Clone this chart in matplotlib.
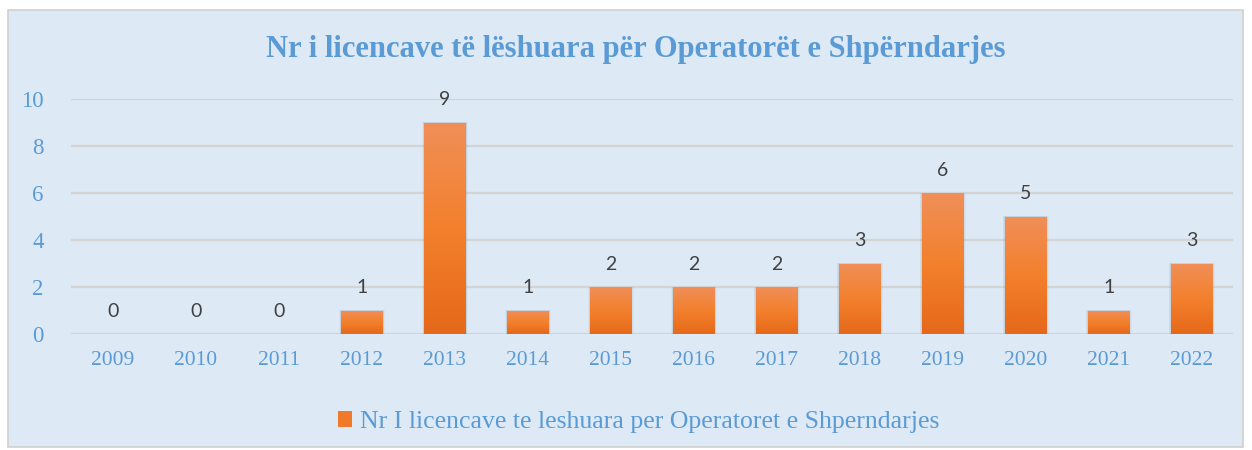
import numpy as np
import matplotlib.pyplot as plt
from matplotlib.patches import Rectangle
from matplotlib.colors import LinearSegmentedColormap

years = ['2009', '2010', '2011', '2012', '2013', '2014', '2015', '2016',
         '2017', '2018', '2019', '2020', '2021', '2022']
licences = [0, 0, 0, 1, 9, 1, 2, 2, 2, 3, 6, 5, 1, 3]

title = 'Nr i licencave të lëshuara për Operatorët e Shpërndarjes'
series_name = 'Nr I licencave te leshuara per Operatoret e Shperndarjes'

blue = '#5B9BD5'
bg = '#DDE9F5'

fig = plt.figure(figsize=(12.52, 4.5), dpi=100)
fig.patch.set_facecolor('white')
# chart frame
fig.patches.append(Rectangle((8/1252, 3/450), 1235/1252, 437/450, transform=fig.transFigure,
                             facecolor=bg, edgecolor='#D0D0D0', lw=1.2, zorder=-5))

ax = fig.add_axes([0.0571, 0.2578, 0.928, 0.522])
ax.set_facecolor('none')
x = np.arange(len(years))
ax.set_xlim(-0.5, len(years) - 0.5)
ax.set_ylim(0, 10)

grad = LinearSegmentedColormap.from_list('g', ['#E5691A', '#F3802D', '#F08F58'])
bars = ax.bar(x, licences, width=0.5, color='none', edgecolor='none', zorder=3)
for b, v in zip(bars, licences):
    if v == 0:
        continue
    x0, w, h = b.get_x(), b.get_width(), b.get_height()
    # soft shadow
    for k, a in [(0.06, 0.04), (0.04, 0.06), (0.02, 0.08)]:
        ax.add_patch(Rectangle((x0 - k * 0.5, -0.02), w + k, h + 0.04, facecolor='#506070',
                               alpha=a, edgecolor='none', zorder=2))
    im = ax.imshow(np.linspace(0, 1, 100).reshape(-1, 1), cmap=grad, aspect='auto',
                   extent=(x0, x0 + w, 0, h), origin='lower', zorder=3)
    clip = Rectangle((x0, 0), w, h, transform=ax.transData, facecolor='none', edgecolor='none')
    ax.add_patch(clip)
    im.set_clip_path(clip)

for xi, v in zip(x, licences):
    ax.text(xi, v + 0.6, str(v), ha='center', va='bottom', fontsize=14,
            family='Lato', color='#404040', zorder=4)

ax.set_yticks([0, 2, 4, 6, 8, 10])
ax.yaxis.grid(True, color='#D4D4D4', lw=1.6, zorder=1)
ax.set_axisbelow(True)
ax.set_xticks(x)
ax.set_xticklabels(years)
for s in ax.spines.values():
    s.set_visible(False)
ax.tick_params(length=0, colors=blue, labelsize=15.5, pad=12)
ax.tick_params(axis='y', labelsize=16.5, pad=20)
for lbl in ax.get_xticklabels() + ax.get_yticklabels():
    lbl.set_family('Liberation Serif')
    lbl.set_color(blue)

fig.text(0.508, 0.89, title, ha='center', va='center', fontsize=22, fontweight='bold',
         family='Liberation Serif', color=blue)

handle = Rectangle((0, 0), 1, 1, facecolor='#F07A2A')
fig.legend([handle], [series_name], loc='center', bbox_to_anchor=(0.51, 0.062), frameon=False,
           prop={'family': 'Liberation Serif', 'size': 18.5}, labelcolor=blue,
           handlelength=0.55, handleheight=0.55, handletextpad=0.3)

fig.savefig('out.png', dpi=100, facecolor='white')
